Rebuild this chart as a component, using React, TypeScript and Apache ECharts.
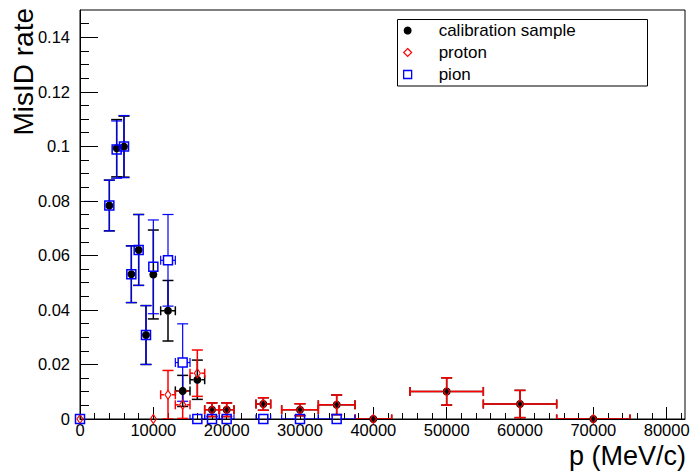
import React, { useEffect, useRef } from "react";
import * as echarts from "echarts";

// ---- data ----
const calibP = [4000, 5000, 6000, 7000, 8000, 9000, 10000, 12000, 14000, 16000, 18000, 20000, 25000, 30000, 35000, 40000, 50000, 60000, 70000];
const calibPErr = [500, 500, 500, 500, 500, 500, 500, 1000, 1000, 1000, 1000, 1000, 1000, 2500, 2500, 2500, 5000, 5000, 5000];
const calibRate = [0.0783, 0.0993, 0.0999, 0.0531, 0.062, 0.0308, 0.053, 0.0397, 0.0103, 0.0144, 0.0034, 0.0034, 0.0055, 0.0034, 0.0052, 0, 0.0101, 0.0055, 0];
const calibRateErr = [0.0093, 0.0105, 0.0112, 0.0104, 0.013, 0.0108, 0.0163, 0.0111, 0.0057, 0.0072, 0.0025, 0.0025, 0.0023, 0.0022, 0.0036, 0, 0.005, 0.005, 0];

const protonP = [0, 10000, 12000, 14000, 16000, 18000, 20000, 25000, 30000, 35000, 40000, 50000, 60000, 70000];
const protonPErr = [0, 500, 1000, 1000, 1000, 1000, 1000, 1000, 2500, 2500, 2500, 5000, 5000, 5000];
const protonRate = [0, 0, 0.0089, 0.0052, 0.0168, 0.0034, 0.0034, 0.0055, 0.0034, 0.0052, 0, 0.0101, 0.0055, 0];
const protonRateErr = [0, 0, 0.0089, 0.005, 0.0085, 0.0025, 0.0025, 0.0023, 0.0022, 0.0036, 0, 0.005, 0.005, 0];

const pionP = [0, 4000, 5000, 6000, 7000, 8000, 9000, 10000, 12000, 14000, 16000, 18000, 20000, 25000, 30000, 35000];
const pionPErr = [0, 500, 500, 500, 500, 500, 500, 500, 1000, 1000, 1000, 1000, 1000, 1000, 2500, 2500];
const pionRate = [0, 0.0783, 0.0988, 0.0999, 0.0531, 0.062, 0.0308, 0.0558, 0.0582, 0.0207, 0, 0, 0, 0, 0, 0];
const pionRateErr = [0, 0.0093, 0.0105, 0.0114, 0.0104, 0.013, 0.0108, 0.0172, 0.0168, 0.0142, 0, 0, 0, 0, 0, 0];

const xMajorTicks = [0, 10000, 20000, 30000, 40000, 50000, 60000, 70000, 80000];
const yMajorTicks = [0, 0.02, 0.04, 0.06, 0.08, 0.1, 0.12, 0.14];
const X_MAX = 82500;
const Y_MAX = 0.15;
const X_MINOR_STEP = 2000;
const Y_MINOR_STEP = 0.005;

const legendNames = ["calibration sample", "proton", "pion"];
const xTitle = "p (MeV/c)";
const yTitle = "MisID rate";

// minor tick positions between major ticks
const xMinorTicks: number[] = [];
for (let i = 1; i * X_MINOR_STEP < X_MAX; i++) {
  if (i % 5 !== 0) xMinorTicks.push(i * X_MINOR_STEP);
}
const yMinorTicks: number[] = [];
for (let i = 1; i * Y_MINOR_STEP < Y_MAX - 1e-9; i++) {
  if (i % 4 !== 0) yMinorTicks.push(+(i * Y_MINOR_STEP).toFixed(4));
}

const FONT = "'Liberation Sans', Arial, Helvetica, sans-serif";
const RED = "#ff0000";
const BLUE = "#0000ff";
const DIAMOND = "path://M0,-1L1,0L0,1L-1,0Z";
const SQUARE = "path://M0,0L1,0L1,1L0,1Z";

function errorSeries(name: string, p: number[], pErr: number[], rate: number[], rateErr: number[], color: string, gap: number, width: number) {
  return {
    type: "custom",
    name,
    xAxisIndex: 0,
    yAxisIndex: 0,
    clip: true,
    silent: true,
    encode: { x: 0, y: 1 },
    data: p.map((v, i) => [v, rate[i], pErr[i], rateErr[i]]),
    renderItem: (params: any, api: any) => {
      const x = api.value(0);
      const y = api.value(1);
      const ex = api.value(2);
      const ey = api.value(3);
      const c = api.coord([x, y]);
      const left = api.coord([x - ex, y])[0];
      const right = api.coord([x + ex, y])[0];
      const top = api.coord([x, y + ey])[1];
      const bottom = api.coord([x, Math.max(y - ey, 0)])[1];
      const style = { stroke: color, lineWidth: width };
      const cap = 5.5;
      const hcap = 4.5;
      const ln = (x1: number, y1: number, x2: number, y2: number) => ({
        type: "line",
        shape: { x1, y1, x2, y2 },
        style,
      });
      const children: any[] = [];
      if (c[1] - top > gap) {
        children.push(ln(c[0], c[1] - gap, c[0], top));
        children.push(ln(c[0] - cap, top, c[0] + cap, top));
      }
      if (bottom - c[1] > gap) {
        children.push(ln(c[0], c[1] + gap, c[0], bottom));
        children.push(ln(c[0] - cap, bottom, c[0] + cap, bottom));
      }
      if (right - c[0] > gap) {
        children.push(ln(c[0] + gap, c[1], right, c[1]));
        children.push(ln(right, c[1] - hcap, right, c[1] + hcap));
      }
      if (c[0] - left > gap) {
        children.push(ln(c[0] - gap, c[1], left, c[1]));
        children.push(ln(left, c[1] - hcap, left, c[1] + hcap));
      }
      return { type: "group", children };
    },
  };
}

export default function App() {
  const ref = useRef<HTMLDivElement>(null);
  useEffect(() => {
    if (!ref.current) return;
    const chart = echarts.init(ref.current, null, { renderer: "svg" });
    const option: any = {
      animation: false,
      backgroundColor: "#fff",
      textStyle: { fontFamily: FONT },
      grid: {
        left: 80,
        right: 13,
        top: 10,
        bottom: 55,
        show: true,
        borderColor: "#000",
        borderWidth: 1,
        backgroundColor: "transparent",
      },
      xAxis: [
        {
          type: "value",
          min: 0,
          max: X_MAX,
          position: "bottom",
          axisLine: { show: true, onZero: false, lineStyle: { color: "#000", width: 1 } },
          axisTick: { show: true, inside: true, length: 12, customValues: xMajorTicks, lineStyle: { color: "#000" } },
          axisLabel: {
            show: true,
            customValues: xMajorTicks,
            formatter: (v: number) => String(v),
            color: "#000",
            fontSize: 16.5,
            lineHeight: 14,
            fontFamily: FONT,
            margin: 4,
          },
          splitLine: { show: false },
        },
        {
          type: "value",
          min: 0,
          max: X_MAX,
          position: "bottom",
          axisLine: { show: false },
          axisTick: { show: true, inside: true, length: 6, customValues: xMinorTicks, lineStyle: { color: "#000" } },
          axisLabel: { show: false },
          splitLine: { show: false },
        },
      ],
      yAxis: [
        {
          type: "value",
          min: 0,
          max: Y_MAX,
          position: "left",
          axisLine: { show: true, onZero: false, lineStyle: { color: "#000", width: 1 } },
          axisTick: { show: true, inside: true, length: 18, customValues: yMajorTicks, lineStyle: { color: "#000" } },
          axisLabel: {
            show: true,
            customValues: yMajorTicks,
            formatter: (v: number) => String(Math.round(v * 1000) / 1000),
            color: "#000",
            fontSize: 16.5,
            fontFamily: FONT,
            margin: 10,
          },
          splitLine: { show: false },
        },
        {
          type: "value",
          min: 0,
          max: Y_MAX,
          position: "left",
          axisLine: { show: false },
          axisTick: { show: true, inside: true, length: 9, customValues: yMinorTicks, lineStyle: { color: "#000" } },
          axisLabel: { show: false },
          splitLine: { show: false },
        },
      ],
      legend: {
        orient: "vertical",
        left: 403,
        top: 22,
        padding: 0,
        itemWidth: 52,
        itemHeight: 8,
        itemGap: 5,
        selectedMode: false,
        textStyle: { fontSize: 17, fontFamily: FONT, color: "#000" },
        data: [
          { name: legendNames[0], icon: "circle", itemStyle: { color: "#000", borderWidth: 0 } },
          {
            name: legendNames[1],
            icon: DIAMOND,
            itemStyle: { color: "rgba(0,0,0,0)", borderColor: RED, borderWidth: 1.2 },
          },
          {
            name: legendNames[2],
            icon: SQUARE,
            itemStyle: { color: "rgba(0,0,0,0)", borderColor: BLUE, borderWidth: 1.3 },
          },
        ],
      },
      graphic: [
        {
          type: "rect",
          z: 1,
          shape: { x: 397.5, y: 19.5, width: 250, height: 66.5 },
          style: { fill: "#fff", stroke: "#000", lineWidth: 1 },
        },
        {
          type: "text",
          x: 686,
          y: 455.5,
          style: {
            text: xTitle,
            fontSize: 27,
            lineHeight: 20,
            fontFamily: FONT,
            fill: "#000",
            align: "right",
            verticalAlign: "middle",
          },
        },
        {
          type: "text",
          x: 23,
          y: 8,
          rotation: Math.PI / 2,
          style: {
            text: yTitle,
            fontSize: 28,
            fontFamily: FONT,
            fill: "#000",
            align: "right",
            verticalAlign: "middle",
          },
        },
      ],
      series: [
        errorSeries("calibErr", calibP, calibPErr, calibRate, calibRateErr, "#000", 4, 1.5),
        {
          type: "scatter",
          name: legendNames[0],
          xAxisIndex: 0,
          yAxisIndex: 0,
          clip: false,
          silent: true,
          symbol: "circle",
          symbolSize: 8,
          itemStyle: { color: "#000", opacity: 1 },
          data: calibP.map((v, i) => [v, calibRate[i]]),
        },
        errorSeries("protonErr", protonP, protonPErr, protonRate, protonRateErr, RED, 4, 1.5),
        {
          type: "scatter",
          name: legendNames[1],
          xAxisIndex: 0,
          yAxisIndex: 0,
          clip: false,
          silent: true,
          symbol: DIAMOND,
          symbolSize: [6, 9],
          symbolKeepAspect: false,
          itemStyle: { color: "rgba(0,0,0,0)", borderColor: RED, borderWidth: 1.2, opacity: 1 },
          data: protonP.map((v, i) => [v, protonRate[i]]),
        },
        errorSeries("pionErr", pionP, pionPErr, pionRate, pionRateErr, BLUE, 4.5, 1.2),
        {
          type: "scatter",
          name: legendNames[2],
          xAxisIndex: 0,
          yAxisIndex: 0,
          clip: false,
          silent: true,
          symbol: "rect",
          symbolSize: 9,
          itemStyle: { color: "rgba(0,0,0,0)", borderColor: BLUE, borderWidth: 1.5, opacity: 1 },
          data: pionP.map((v, i) => [v, pionRate[i]]),
        },
      ],
    };
    chart.setOption(option);
    return () => chart.dispose();
  }, []);
  return (
    <div
      ref={ref}
      style={{ position: "absolute", left: 0, top: 0, width: 698, height: 474, background: "#fff" }}
    />
  );
}
